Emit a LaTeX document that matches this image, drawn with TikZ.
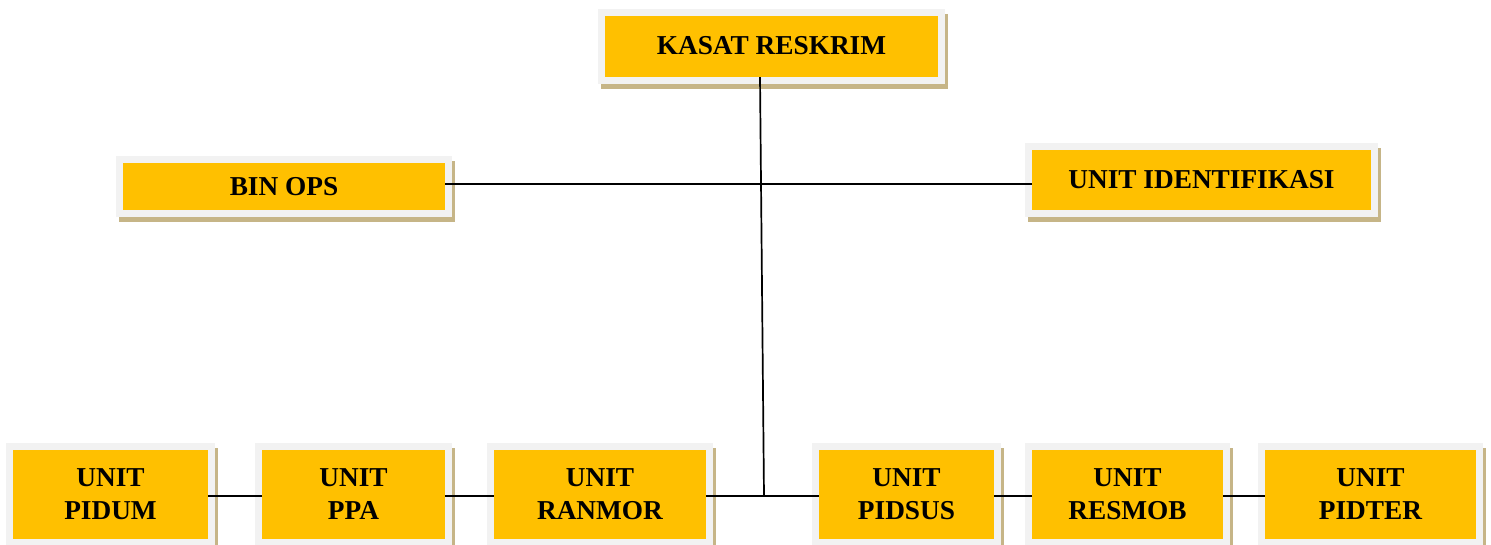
\documentclass[tikz,border=0pt]{standalone}
\usepackage{fontspec}
\setmainfont{Liberation Serif}
\definecolor{goldfill}{HTML}{FFC000}
\definecolor{framegray}{HTML}{F2F2F2}
\definecolor{shadowtan}{HTML}{C6B587}
\tikzset{
  goldbox/.style={fill=goldfill, inner sep=0pt, align=center,
    font=\fontsize{27.3}{33}\selectfont\bfseries},
  link/.style={draw=black, line width=1.7pt}
}
\newcommand\orgbox[6]{%
  \fill[shadowtan] (#2-4,#3-2) rectangle (#4+10,#5+12);
  \fill[framegray] (#2-7,#3-7) rectangle (#4+7,#5+7);
  \node[goldbox, minimum width={#4-#2}, minimum height={#5-#3}] (#1)
    at ({(#2+#4)/2},{(#3+#5)/2}) {#6};
}
\begin{document}
\begin{tikzpicture}[x=1pt,y=-1pt]
\useasboundingbox (0,0) rectangle (1491,545);
\orgbox{kasat}{605}{16}{938}{77}{\raisebox{3pt}{KASAT RESKRIM}}
\orgbox{binops}{123}{163}{445}{210}{BIN OPS}
\orgbox{ident}{1032}{150}{1371}{210}{UNIT IDENTIFIKASI}
\orgbox{pidum}{13}{450}{208}{539}{UNIT\\PIDUM}
\orgbox{ppa}{262}{450}{445}{539}{UNIT\\PPA}
\orgbox{ranmor}{494}{450}{706}{539}{UNIT\\RANMOR}
\orgbox{pidsus}{819}{450}{994}{539}{UNIT\\PIDSUS}
\orgbox{resmob}{1032}{450}{1223}{539}{UNIT\\RESMOB}
\orgbox{pidter}{1265}{450}{1476}{539}{UNIT\\PIDTER}
\coordinate (midy) at (0,184);
\coordinate (bly) at (0,496);
\coordinate (vtop) at (760,77);
\coordinate (junc) at (764,496);
\draw[link] (binops.east |- midy) -- (ident.west |- midy);
\draw[link] (kasat.south -| vtop) -- (junc);
\draw[link] (pidum.east |- bly) -- (ppa.west |- bly);
\draw[link] (ppa.east |- bly) -- (ranmor.west |- bly);
\draw[link] (ranmor.east |- bly) -- (junc) -- (pidsus.west |- bly);
\draw[link] (pidsus.east |- bly) -- (resmob.west |- bly);
\draw[link] (resmob.east |- bly) -- (pidter.west |- bly);
\end{tikzpicture}
\end{document}
